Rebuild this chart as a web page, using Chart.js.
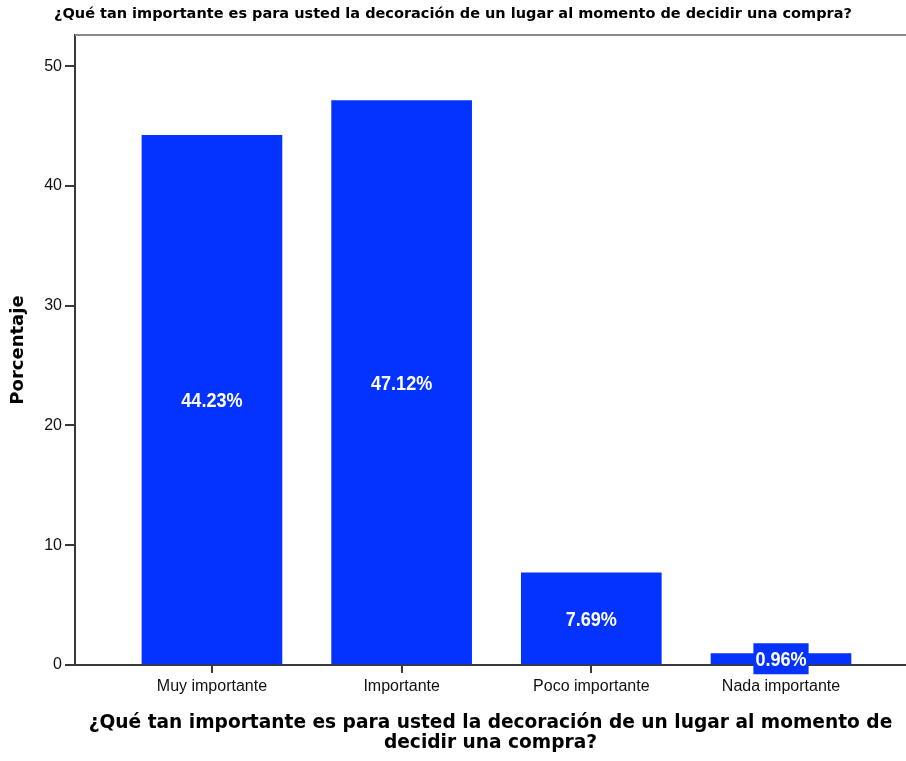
<!DOCTYPE html>
<html>
<head>
<meta charset="utf-8">
<script src="https://cdn.jsdelivr.net/npm/chart.js@4.4.1/dist/chart.umd.min.js"></script>
<style>
  html, body { margin: 0; padding: 0; background: #fff; overflow: hidden; }
  #wrap { width: 906px; height: 761px; }
</style>
</head>
<body>
<div id="wrap"><canvas id="pctChart" width="906" height="761"></canvas></div>
<script>
const categories = ['Muy importante', 'Importante', 'Poco importante', 'Nada importante'];
const percentages = [44.23, 47.12, 7.69, 0.96];
const yTicks = [0, 10, 20, 30, 40, 50];
const question = '¿Qué tan importante es para usted la decoración de un lugar al momento de decidir una compra?';
const xTitleLines = ['¿Qué tan importante es para usted la decoración de un lugar al momento de', 'decidir una compra?'];
const yTitle = 'Porcentaje';

const barColor = '#0433ff';
const axisColor = '#3a3a3a';

// grey frame line along the top of the plot
const topFrame = {
  id: 'topFrame',
  afterDraw(chart) {
    const { ctx, chartArea } = chart;
    ctx.save();
    ctx.strokeStyle = '#8a8a8a';
    ctx.lineWidth = 2;
    ctx.beginPath();
    ctx.moveTo(chartArea.left, chartArea.top);
    ctx.lineTo(chartArea.right, chartArea.top);
    ctx.stroke();
    ctx.restore();
  }
};

// percentage label in the middle of each bar, on a box of the bar colour;
// the text is squeezed sideways to get a narrow bold face
const barLabels = {
  id: 'barLabels',
  afterDatasetsDraw(chart) {
    const { ctx } = chart;
    const meta = chart.getDatasetMeta(0);
    const squeeze = 0.86;
    ctx.save();
    ctx.font = 'bold 21px "Liberation Sans", Arial, sans-serif';
    ctx.textAlign = 'center';
    ctx.textBaseline = 'middle';
    meta.data.forEach((bar, i) => {
      const text = percentages[i].toFixed(2) + '%';
      const cy = (bar.y + bar.base) / 2;
      const w = ctx.measureText(text).width * squeeze + 4;
      const h = 31;
      ctx.fillStyle = barColor;
      ctx.fillRect(bar.x - w / 2, cy - h / 2, w, h);
      ctx.save();
      ctx.translate(bar.x, cy + 1.5);
      ctx.scale(squeeze, 1);
      ctx.fillStyle = '#ffffff';
      ctx.fillText(text, 0, 0);
      ctx.restore();
    });
    ctx.restore();
  }
};

new Chart(document.getElementById('pctChart').getContext('2d'), {
  type: 'bar',
  data: {
    datasets: [{
      label: yTitle,
      data: percentages.map((v, i) => ({ x: i, y: v })),
      backgroundColor: barColor,
      borderWidth: 0,
      barThickness: 140
    }]
  },
  options: {
    responsive: false,
    animation: false,
    layout: { padding: 0 },
    plugins: {
      legend: { display: false },
      tooltip: { enabled: false },
      title: {
        display: true,
        text: question,
        color: '#000',
        font: { family: '"DejaVu Sans", sans-serif', size: 14.5, weight: 'bold', lineHeight: 1.2 },
        padding: { top: 6, bottom: 11.6 }
      }
    },
    scales: {
      x: {
        type: 'linear',
        min: -0.722,
        max: 3.659,
        offset: false,
        z: 1,
        afterBuildTicks: (scale) => { scale.ticks = categories.map((c, i) => ({ value: i })); },
        afterFit: (scale) => { scale.height = 96; },
        ticks: {
          autoSkip: false,
          maxRotation: 0,
          padding: 4,
          color: '#111',
          font: { family: '"Liberation Sans", Arial, sans-serif', size: 16 },
          callback: (v) => categories[v]
        },
        grid: { offset: false, drawOnChartArea: false, drawTicks: true, tickLength: 8, color: axisColor, lineWidth: 2 },
        border: { color: axisColor, width: 2 },
        title: {
          display: true,
          text: xTitleLines,
          color: '#000',
          font: { family: '"DejaVu Sans", sans-serif', size: 18.6, weight: 'bold', lineHeight: 1.08 },
          padding: { top: 0, bottom: 8 }
        }
      },
      y: {
        min: 0,
        max: 52.6,
        afterBuildTicks: (scale) => { scale.ticks = yTicks.map(v => ({ value: v })); },
        afterFit: (scale) => { scale.width = 75; },
        ticks: {
          padding: 3,
          color: '#111',
          font: { family: '"Liberation Sans", Arial, sans-serif', size: 16 }
        },
        grid: { drawOnChartArea: false, drawTicks: true, tickLength: 10, color: axisColor, lineWidth: 2 },
        border: { color: axisColor, width: 2 },
        title: {
          display: true,
          text: yTitle,
          color: '#000',
          font: { family: '"DejaVu Sans", sans-serif', size: 18, weight: 'bold' },
          padding: { top: 8, bottom: 0 }
        }
      }
    }
  },
  plugins: [topFrame, barLabels]
});
</script>
</body>
</html>
